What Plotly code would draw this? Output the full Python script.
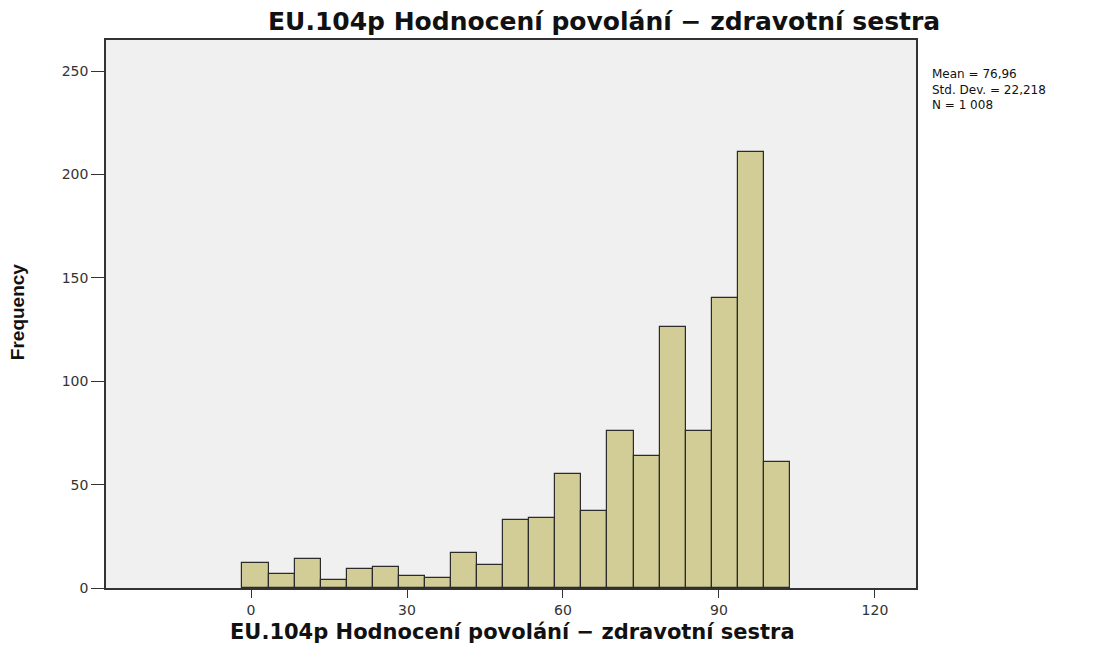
import plotly.graph_objects as go

# histogram counts, bins of width ~5 starting at about -1.65
counts = [12, 7, 14, 4, 9, 10, 6, 5, 17, 11, 33, 34, 55, 37, 76, 64, 126, 76, 140, 211, 61]
bin_start = -1.65
bin_width = 5.015
x_ticks = [0, 30, 60, 90, 120]
y_ticks = [0, 50, 100, 150, 200, 250]
stats_lines = ["Mean = 76,96", "Std. Dev. = 22,218", "N = 1 008"]
title_text = "EU.104p Hodnocení povolání − zdravotní sestra"

centers = [bin_start + bin_width * (i + 0.5) for i in range(len(counts))]

fig = go.Figure()
fig.add_trace(go.Bar(
    x=centers, y=counts, width=bin_width,
    marker=dict(color="#D2CD96", line=dict(color="#2b2b2b", width=1.2)),
    hoverinfo="x+y",
))

# page body has an 8px margin, so the figure is a bit smaller than the window
fig.update_layout(
    width=1096, height=635,
    margin=dict(l=98, r=188, t=32, b=55),
    paper_bgcolor="white",
    plot_bgcolor="#F0F0F0",
    showlegend=False,
    bargap=0,
    font=dict(family="DejaVu Sans", color="#222"),
)

axis_style = dict(
    showgrid=False, zeroline=False, automargin=False,
    showline=True, mirror=True, linecolor="#333", linewidth=1.5,
    ticks="outside", tickcolor="#333",
    tickfont=dict(size=14, color="#333"),
)
fig.update_xaxes(range=[-27.9, 127.9], tickvals=x_ticks, ticklen=8, **axis_style)
fig.update_yaxes(range=[0, 265], tickvals=y_ticks, ticklen=13, **axis_style)

# titles as annotations so they sit where the original has them
fig.add_annotation(text="<b>" + title_text + "</b>", xref="paper", yref="paper",
                   x=0.615, y=1.033, xanchor="center", yanchor="middle", showarrow=False,
                   font=dict(size=25, family="DejaVu Sans", color="#111"))
fig.add_annotation(text="<b>" + title_text + "</b>", xref="paper", yref="paper",
                   x=0.502, y=-0.081, xanchor="center", yanchor="middle", showarrow=False,
                   font=dict(size=21, family="DejaVu Sans", color="#111"))
fig.add_annotation(text="<b>Frequency</b>", xref="paper", yref="paper",
                   x=-0.110, y=0.505, xanchor="center", yanchor="middle", showarrow=False,
                   textangle=-90, font=dict(size=19, family="Liberation Sans", color="#111"))

fig.add_annotation(
    text="<br>".join(stats_lines), xref="paper", yref="paper",
    x=1.0173, y=0.909, xanchor="left", yanchor="middle", align="left",
    showarrow=False, font=dict(size=12, color="#111"),
)

fig.write_html("out.html")
